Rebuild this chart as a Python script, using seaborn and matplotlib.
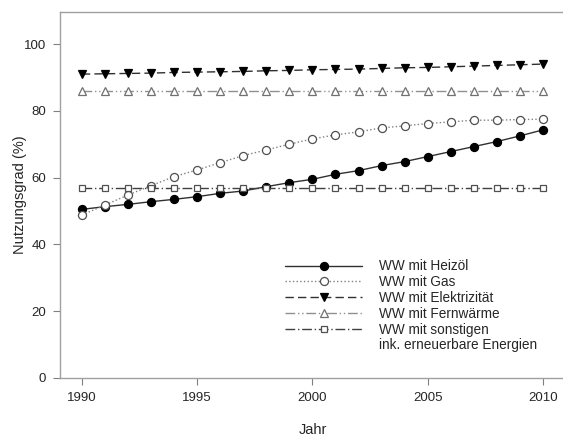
import numpy as np
import pandas as pd
import matplotlib
matplotlib.use("Agg")
import matplotlib.pyplot as plt
import seaborn as sns

years = list(range(1990, 2011))
heizoel = [50.5, 51.3, 52.0, 52.8, 53.5, 54.3, 55.3, 56.0, 57.3, 58.5, 59.5,
           61.0, 62.1, 63.6, 64.8, 66.3, 67.8, 69.3, 70.8, 72.5, 74.3]
gas = [48.8, 51.8, 54.8, 57.6, 60.3, 62.3, 64.5, 66.6, 68.3, 70.0, 71.6,
       72.8, 73.7, 74.9, 75.5, 76.2, 76.7, 77.2, 77.2, 77.4, 77.5]
elektro = [91.0, 91.1, 91.2, 91.3, 91.5, 91.6, 91.7, 91.8, 92.0, 92.1, 92.3,
           92.4, 92.5, 92.7, 92.9, 93.0, 93.2, 93.4, 93.6, 93.8, 94.0]
fernwaerme = [86.0] * 21
sonstige = [57.0] * 21

labels = ["WW mit Heizöl", "WW mit Gas", "WW mit Elektrizität",
          "WW mit Fernwärme", "WW mit sonstigen"]
extra_label = "ink. erneuerbare Energien"

sns.set_style("white")
plt.rcParams['font.family'] = ['Liberation Sans', 'DejaVu Sans']

fig = plt.figure(figsize=(5.63, 4.37), dpi=100)
ax = fig.add_axes([60/563, 59/437, 506/563, 366/437])

styles = [
    dict(marker='o', linestyle='-', color='#303030', mfc='black', mec='black', ms=5.8, lw=1.0),
    dict(marker='o', linestyle=':', color='#808080', mfc='white', mec='#505050', ms=5.8, lw=1.0),
    dict(marker='v', linestyle=(0, (6, 3)), color='#303030', mfc='black', mec='black', ms=5.5, lw=1.0),
    dict(marker='^', linestyle=(0, (7, 2, 1, 2, 1, 2)), color='#909090', mfc='white', mec='#707070', ms=5.5, lw=1.0),
    dict(marker='s', linestyle=(0, (7, 2, 1, 2)), color='#404040', mfc='white', mec='#505050', ms=5.0, lw=1.0),
]
series = [heizoel, gas, elektro, fernwaerme, sonstige]
for vals, lab, st in zip(series, labels, styles):
    df = pd.DataFrame({"Jahr": years, "v": vals})
    sns.lineplot(data=df, x="Jahr", y="v", ax=ax, label=lab,
                 color=st['color'], marker=st['marker'], linestyle=st['linestyle'],
                 markerfacecolor=st['mfc'], markeredgecolor=st['mec'],
                 markersize=st['ms'], linewidth=st['lw'], markeredgewidth=0.9)

# second line of the last legend entry, without a handle
ax.plot([], [], color='none', label=extra_label)

ax.set_xlim(1989.05, 2011.0)
ax.set_ylim(0, 109.6)
ax.set_xticks([1990, 1995, 2000, 2005, 2010])
ax.set_yticks([0, 20, 40, 60, 80, 100])
for s in ax.spines.values():
    s.set_color('#a0a0a0')
    s.set_linewidth(1.0)
ax.spines['right'].set_visible(False)
ax.tick_params(axis='both', direction='out', length=5, color='#808080',
               labelsize=9.5, width=0.8, bottom=True, left=True, pad=5)
ax.set_xlabel("Jahr", fontsize=10.5, labelpad=14)
ax.set_ylabel("Nutzungsgrad (%)", fontsize=10.5, labelpad=-2)

leg = ax.legend(loc='upper left', bbox_to_anchor=(280/563, 1 - 254/437),
                bbox_transform=fig.transFigure, frameon=False, fontsize=9.8,
                handlelength=5.6, handletextpad=1.3, labelspacing=0.13,
                borderaxespad=0)

fig.savefig("out.png", dpi=100)
